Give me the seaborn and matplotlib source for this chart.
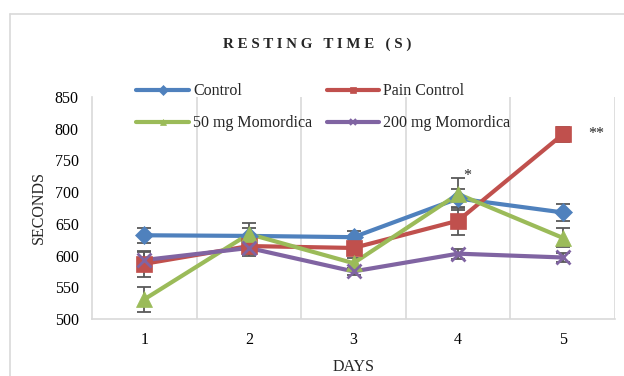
import matplotlib
matplotlib.use("Agg")
import matplotlib.pyplot as plt
import seaborn as sns
import pandas as pd
import numpy as np
from matplotlib.lines import Line2D

days = [1, 2, 3, 4, 5]
series_names = ["Control", "Pain Control", "50 mg Momordica", "200 mg Momordica"]
control = [632, 631, 629, 690, 668]
pain_control = [587, 615, 612, 655, 791]
mg50 = [531, 634, 588, 697, 628]
mg200 = [593, 612, 575, 603, 597]
control_err = [12, 12, 10, 15, 13]
pain_err = [20, 15, 10, 22, 12]
mg50_err = [20, 17, 8, 25, 15]
mg200_err = [12, 10, 6, 8, 7]

values = [control, pain_control, mg50, mg200]
errors = [control_err, pain_err, mg50_err, mg200_err]
colors = ["#4F81BD", "#C0504D", "#9BBB59", "#8064A2"]
markers = ["D", "s", "^", "x"]
msizes = [9, 11, 12, 10]

df = pd.DataFrame({
    "Day": days * 4,
    "Seconds": control + pain_control + mg50 + mg200,
    "Group": sum([[n] * 5 for n in series_names], []),
})

sns.set_theme(style="white")
plt.rcParams["font.family"] = ["Liberation Serif", "DejaVu Serif"]
FS = 11.5

fig = plt.figure(figsize=(6.24, 3.76), dpi=100)
ax = fig.add_axes([92 / 624, 1 - 319 / 376, (615 - 92) / 624, (319 - 97) / 376])

# error bars (behind markers)
for vals, errs in zip(values, errors):
    ax.errorbar(days, vals, yerr=errs, fmt="none", ecolor="#595959",
                elinewidth=1.3, capsize=5, capthick=1.3, zorder=2)

sns.lineplot(data=df, x="Day", y="Seconds", hue="Group", hue_order=series_names,
             palette=colors, ax=ax, legend=False, linewidth=3, zorder=3)

for i, (vals, c, m, ms) in enumerate(zip(values, colors, markers, msizes)):
    ax.plot(days, vals, linestyle="none", marker=m, markersize=ms, color=c,
            markeredgecolor=c, markeredgewidth=2 if m == "x" else 0.5, zorder=4 + i)

ax.set_xlim(0.5, 5.5)
ax.set_ylim(500, 850)
ax.set_yticks(np.arange(500, 851, 50))
ax.set_xticks(days)
ax.set_xticklabels([str(d) for d in days])
ax.set_xticks([1.5, 2.5, 3.5, 4.5, 5.5], minor=True)
ax.grid(False)
ax.grid(True, which="minor", axis="x", color="#D9D9D9", linewidth=1.2)
ax.tick_params(axis="both", which="both", length=0, labelsize=FS, colors="#000000")
ax.tick_params(axis="y", pad=9.5)
ax.tick_params(axis="x", pad=9)
for side in ["top", "right"]:
    ax.spines[side].set_visible(False)
for side in ["left", "bottom"]:
    ax.spines[side].set_color("#D9D9D9")
    ax.spines[side].set_linewidth(1.2)

ax.set_xlabel("DAYS", fontsize=FS, labelpad=8)
ax.set_ylabel("SECONDS", fontsize=FS, labelpad=6)

ax.text(4.09, 726, "*", fontsize=FS, ha="center", va="center")
ax.text(5.32, 792, "**", fontsize=FS, ha="center", va="center")

handles = {n: Line2D([0], [0], color=c, lw=3, marker=m, markersize=5,
                     markeredgewidth=1.5 if m == "x" else 0.5, markeredgecolor=c)
           for n, c, m in zip(series_names, colors, markers)}
# column-major fill -> rows: Control | Pain Control ; 50 mg | 200 mg
leg_order = [series_names[0], series_names[2], series_names[1], series_names[3]]
leg = fig.legend([handles[n] for n in leg_order], leg_order, ncol=2, frameon=False,
                 fontsize=FS, loc="upper left",
                 bbox_to_anchor=(130 / 624, 1 - 77 / 376),
                 handlelength=3.3, handletextpad=0.25, columnspacing=0.9,
                 labelspacing=1.0, borderaxespad=0)

fig.text(317 / 624, 1 - 44 / 376, "R E S T I N G   T I M E   ( S )",
         fontsize=10.8, fontweight="bold", ha="center", va="center")

# outer chart frame
fig.add_artist(Line2D([10 / 624, 1.0], [1 - 14 / 376, 1 - 14 / 376],
                      color="#D9D9D9", lw=1.2, transform=fig.transFigure))
fig.add_artist(Line2D([10 / 624, 10 / 624], [0, 1 - 14 / 376],
                      color="#D9D9D9", lw=1.2, transform=fig.transFigure))

fig.savefig("out.png", dpi=100, facecolor="white")
